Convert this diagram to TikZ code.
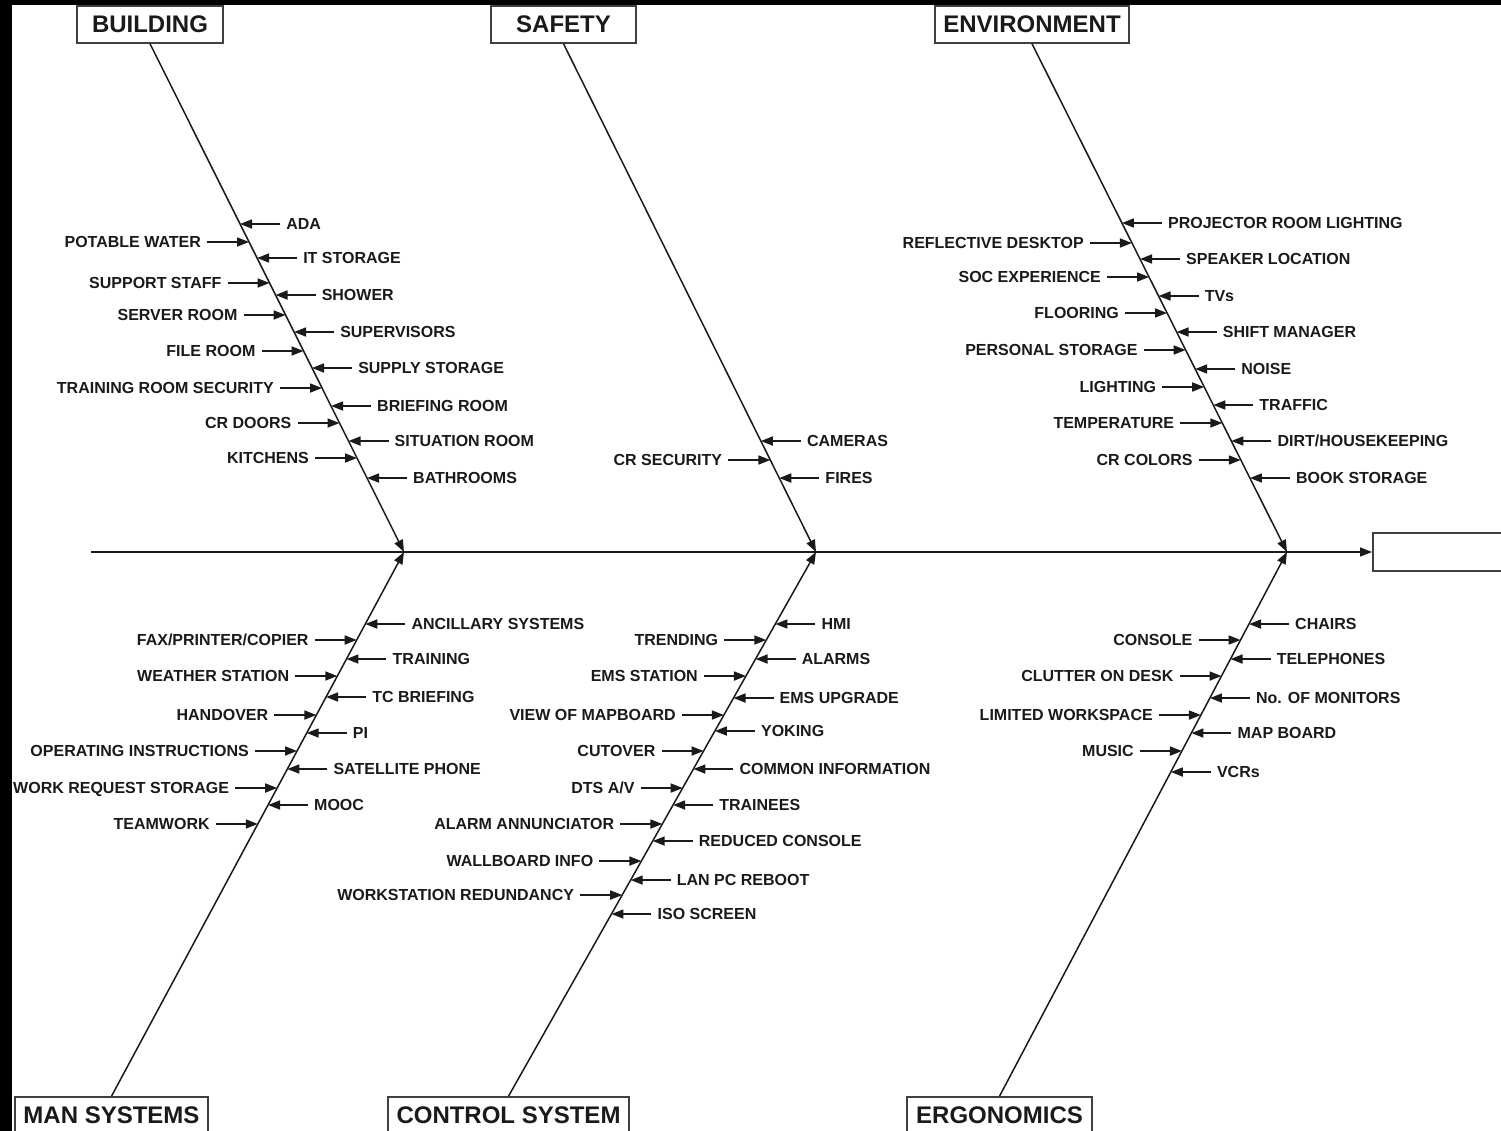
\documentclass[tikz,border=0pt]{standalone}
\usepackage{fontspec}
\setmainfont{Liberation Sans}
\usetikzlibrary{arrows.meta}
\definecolor{ink}{HTML}{1A1A1A}
\tikzset{
  tip/.style={-{Triangle[length=12pt,width=9pt]}},
  rib/.style={line width=1.7pt, draw=ink, tip},
  spine/.style={line width=1.5pt, draw=ink},
  rlab/.style={anchor=west, inner xsep=6pt, inner ysep=0pt, text height=11.5pt, text depth=0pt,
    font=\fontsize{16}{16}\selectfont\bfseries, text=ink},
  llab/.style={rlab, anchor=east},
  cat/.style={draw=black!75, line width=1.6pt, fill=white, minimum width=#1, minimum height=37pt,
    inner sep=0pt, font=\fontsize{24}{24}\selectfont\bfseries, text=ink},
  effectbox/.style={draw=black!75, line width=1.6pt, fill=white, minimum width=200pt, minimum height=38pt, anchor=west}
}
\newcommand\ribsR[4]{%
  \foreach \y/\t [count=\i] in {#4} {
    \coordinate (#1R\i) at (intersection of #2--#3 and 0,\y--1,\y);
    \node[rlab] (#1RL\i) at ([xshift=40pt]#1R\i) {\t};
    \draw[rib] (#1RL\i) -- (#1R\i);
  }}
\newcommand\ribsL[4]{%
  \foreach \y/\t [count=\i] in {#4} {
    \coordinate (#1L\i) at (intersection of #2--#3 and 0,\y--1,\y);
    \node[llab] (#1LL\i) at ([xshift=-42pt]#1L\i) {\t};
    \draw[rib] (#1LL\i) -- (#1L\i);
  }}
\begin{document}
\begin{tikzpicture}[x=1pt,y=-1pt]
\useasboundingbox (0,0) rectangle (1501,1131);
\clip (0,0) rectangle (1501,1131);
\fill[white] (0,0) rectangle (1501,1131);

% category boxes
\node[cat=146pt] (building) at (150,24.5) {BUILDING};
\node[cat=145pt] (safety) at (563.5,24.5) {SAFETY};
\node[cat=194pt] (env) at (1032,24.5) {ENVIRONMENT};
\node[cat=193pt] (man) at (111.5,1115.5) {MAN SYSTEMS};
\node[cat=241pt] (ctrl) at (508.5,1115.5) {CONTROL SYSTEM};
\node[cat=185pt] (ergo) at (999.5,1115.5) {ERGONOMICS};
\node[effectbox] (effect) at (1372,552) {};

% junctions
\coordinate (start) at (91,552);
\coordinate (bJ) at (404,552);
\coordinate (sJ) at (816,552);
\coordinate (eJ) at (1287,552);
\coordinate (bS) at (building.south);
\coordinate (sS) at (safety.south);
\coordinate (eS) at (env.south);
\coordinate (mS) at (man.north);
\coordinate (cS) at (ctrl.north);
\coordinate (gS) at (ergo.north);

% main line and spines
\draw[spine,tip] (start) -- (effect.west);
\draw[spine,tip] (bS) -- (bJ);
\draw[spine,tip] (sS) -- (sJ);
\draw[spine,tip] (eS) -- (eJ);
\draw[spine,tip] (mS) -- (bJ);
\draw[spine,tip] (cS) -- (sJ);
\draw[spine,tip] (gS) -- (eJ);

% BUILDING
\ribsR{b}{bS}{bJ}{224/ADA, 258/IT STORAGE, 295/SHOWER, 332/SUPERVISORS, 368/SUPPLY STORAGE, 406/BRIEFING ROOM, 441/SITUATION ROOM, 478/BATHROOMS}
\ribsL{b}{bS}{bJ}{242/POTABLE WATER, 283/SUPPORT STAFF, 315/SERVER ROOM, 351/FILE ROOM, 388/TRAINING ROOM SECURITY, 423/CR DOORS, 458/KITCHENS}

% SAFETY
\ribsR{s}{sS}{sJ}{441/CAMERAS, 478/FIRES}
\ribsL{s}{sS}{sJ}{460/CR SECURITY}

% ENVIRONMENT
\ribsR{e}{eS}{eJ}{223/PROJECTOR ROOM LIGHTING, 259/SPEAKER LOCATION, 296/TVs, 332/SHIFT MANAGER, 369/NOISE, 405/TRAFFIC, 441/{DIRT/HOUSEKEEPING}, 478/BOOK STORAGE}
\ribsL{e}{eS}{eJ}{243/REFLECTIVE DESKTOP, 277/SOC EXPERIENCE, 313/FLOORING, 350/PERSONAL STORAGE, 387/LIGHTING, 423/TEMPERATURE, 460/CR COLORS}

% MAN SYSTEMS
\ribsR{m}{mS}{bJ}{624/ANCILLARY SYSTEMS, 659/TRAINING, 697/TC BRIEFING, 733/PI, 769/SATELLITE PHONE, 805/MOOC}
\ribsL{m}{mS}{bJ}{640/{FAX/PRINTER/COPIER}, 676/WEATHER STATION, 715/HANDOVER, 751/OPERATING INSTRUCTIONS, 788/WORK REQUEST STORAGE, 824/TEAMWORK}

% CONTROL SYSTEM
\ribsR{c}{cS}{sJ}{624/HMI, 659/ALARMS, 698/EMS UPGRADE, 731/YOKING, 769/COMMON INFORMATION, 805/TRAINEES, 841/REDUCED CONSOLE, 880/LAN PC REBOOT, 914/ISO SCREEN}
\ribsL{c}{cS}{sJ}{640/TRENDING, 676/EMS STATION, 715/VIEW OF MAPBOARD, 751/CUTOVER, 788/{DTS A/V}, 824/ALARM ANNUNCIATOR, 861/WALLBOARD INFO, 895/WORKSTATION REDUNDANCY}

% ERGONOMICS
\ribsR{g}{gS}{eJ}{624/CHAIRS, 659/TELEPHONES, 698/No. OF MONITORS, 733/MAP BOARD, 772/VCRs}
\ribsL{g}{gS}{eJ}{640/CONSOLE, 676/CLUTTER ON DESK, 715/LIMITED WORKSPACE, 751/MUSIC}

% dark borders of the scan
\fill[black] (0,0) rectangle (1501,5);
\fill[black] (0,0) rectangle (12,1131);
\end{tikzpicture}
\end{document}
